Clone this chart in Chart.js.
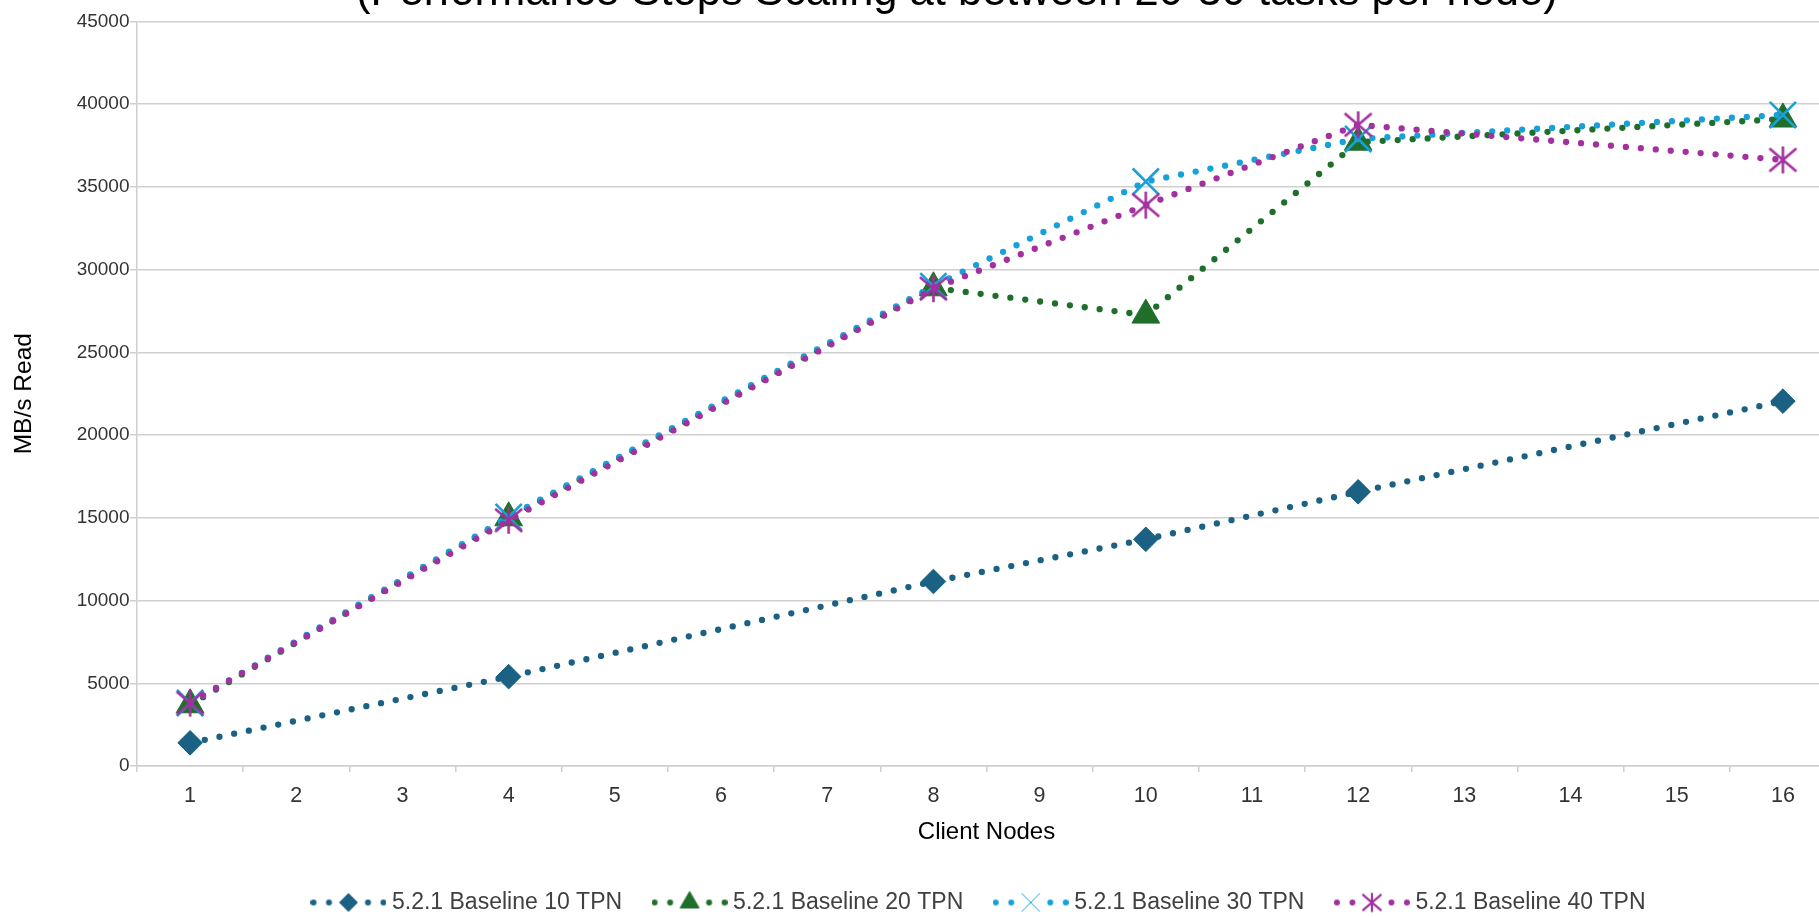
<!DOCTYPE html>
<html>
<head>
<meta charset="utf-8">
<script src="https://cdn.jsdelivr.net/npm/chart.js@4.4.1/dist/chart.umd.min.js"></script>
<style>
  html, body { margin: 0; padding: 0; background: #ffffff; overflow: hidden; width: 1819px; height: 918px; }
  #wrap { position: absolute; left: 0; top: -38px; width: 1962px; height: 962px; }
  canvas { display: block; }
</style>
</head>
<body>
<div id="wrap"><canvas id="chart" width="1962" height="962"></canvas></div>
<script>
// Category axis: number of client nodes
const clientNodes = ['1', '2', '3', '4', '5', '6', '7', '8', '9', '10', '11', '12', '13', '14', '15', '16'];
// Node counts that were actually measured
const measuredNodes = ['1', '4', '8', '10', '12', '16'];

// Read throughput (MB/s) at each measured node count
const baseline10TPN = [1400, 5400, 11150, 13700, 16570, 22050];
const baseline20TPN = [3700, 15000, 28900, 27250, 37700, 39100];
const baseline30TPN = [3800, 15050, 29000, 35320, 37900, 39350];
const baseline40TPN = [3800, 14850, 28850, 33900, 38750, 36630];

const seriesNames = ['5.2.1 Baseline 10 TPN', '5.2.1 Baseline 20 TPN', '5.2.1 Baseline 30 TPN', '5.2.1 Baseline 40 TPN'];
const yTickValues = [0, 5000, 10000, 15000, 20000, 25000, 30000, 35000, 40000, 45000];

const chartTitle = '(Performance Stops Scaling at between 20-30 tasks per node)';
const xTitle = 'Client Nodes';
const yTitle = 'MB/s Read';

const colors = ['#1a6183', '#1f6f2b', '#18a0da', '#a2309f'];
const FONT = "'Liberation Sans', Arial, Helvetica, sans-serif";

// Spread measured values over the full category axis (gaps are spanned by the line)
function onAxis(values) {
  return clientNodes.map(n => {
    const i = measuredNodes.indexOf(n);
    return i < 0 ? null : values[i];
  });
}

// Six-armed asterisk marker
function asteriskMarker(half, color, lw) {
  const size = Math.ceil(half * 2 + lw * 2);
  const c = document.createElement('canvas');
  c.width = size; c.height = size;
  const g = c.getContext('2d');
  const h = size / 2;
  g.strokeStyle = color;
  g.lineWidth = lw;
  g.beginPath();
  g.moveTo(h - half, h - half * 0.85); g.lineTo(h + half, h + half * 0.85);
  g.moveTo(h + half, h - half * 0.85); g.lineTo(h - half, h + half * 0.85);
  g.moveTo(h, h - half); g.lineTo(h, h + half);
  g.stroke();
  return c;
}

// Legend swatch: dotted line segment with the series marker in the middle
function legendSwatch(color, marker) {
  const c = document.createElement('canvas');
  c.width = 76; c.height = 28;
  const g = c.getContext('2d');
  const cx = 38, cy = 14;
  g.fillStyle = color;
  [-35, -19.5, 19.5, 35].forEach(dx => {
    g.beginPath(); g.arc(cx + dx, cy, 3, 0, Math.PI * 2); g.fill();
  });
  g.strokeStyle = color;
  if (marker.image) {
    g.drawImage(marker.image, cx - marker.image.width / 2, cy - marker.image.height / 2);
  } else {
    Chart.helpers.drawPoint(g, { pointStyle: marker.style, radius: marker.radius, rotation: 0, borderWidth: marker.borderWidth }, cx, cy);
  }
  return c;
}

const asteriskBig = asteriskMarker(13.5, colors[3], 2.6);
const asteriskSmall = asteriskMarker(9.5, colors[3], 2.2);

const legendMarkers = [
  { style: 'rectRot', radius: 9, borderWidth: 1 },
  { style: 'triangle', radius: 11, borderWidth: 1 },
  { style: 'crossRot', radius: 13, borderWidth: 2.2 },
  { image: asteriskSmall }
];
const legendSwatches = colors.map((c, i) => legendSwatch(c, legendMarkers[i]));

function lineSeries(i, values, pointStyle, radius, borderWidth) {
  return {
    label: seriesNames[i],
    data: onAxis(values),
    borderColor: colors[i],
    backgroundColor: colors[i],
    borderWidth: 6.3,
    borderDash: [0, 15],
    borderCapStyle: 'round',
    tension: 0,
    spanGaps: true,
    fill: false,
    pointStyle: pointStyle,
    pointRadius: radius,
    pointBorderWidth: borderWidth,
    pointBackgroundColor: colors[i],
    pointBorderColor: colors[i],
    order: 3 - i
  };
}

Chart.defaults.font.family = FONT;

new Chart(document.getElementById('chart'), {
  type: 'line',
  data: {
    labels: clientNodes,
    datasets: [
      lineSeries(0, baseline10TPN, 'rectRot', 12.3, 1),
      lineSeries(1, baseline20TPN, 'triangle', 16, 1),
      lineSeries(2, baseline30TPN, 'crossRot', 18.5, 2.6),
      lineSeries(3, baseline40TPN, asteriskBig, 13, 0)
    ]
  },
  options: {
    responsive: false,
    animation: false,
    events: [],
    devicePixelRatio: 1,
    layout: { padding: 0 },
    plugins: {
      tooltip: { enabled: false },
      title: {
        display: true,
        // trailing spaces keep the heading centred a little left of the legend
        text: chartTitle + '\u00a0\u00a0\u00a0\u00a0',
        color: '#000000',
        font: { size: 43.5, weight: 'normal', family: FONT },
        padding: { top: 5, bottom: 2.2 }
      },
      legend: {
        display: true,
        position: 'bottom',
        labels: {
          usePointStyle: true,
          pointStyleWidth: 64,
          padding: 35.5,
          color: '#404040',
          font: { size: 23, family: FONT },
          generateLabels: chart => chart.data.datasets.map((ds, i) => ({
            text: ds.label,
            pointStyle: legendSwatches[i],
            fillStyle: ds.borderColor,
            strokeStyle: ds.borderColor,
            lineWidth: 0,
            hidden: false,
            datasetIndex: i,
            fontColor: '#404040'
          }))
        }
      }
    },
    scales: {
      x: {
        type: 'category',
        offset: true,
        grid: { offset: true, drawOnChartArea: false, drawTicks: true, tickLength: 6, color: '#cfcfcf', lineWidth: 1.5 },
        border: { display: true, color: '#cfcfcf', width: 1.5 },
        ticks: { color: '#333333', font: { size: 21.5, family: FONT }, padding: 11.5, maxRotation: 0, autoSkip: false },
        title: { display: true, text: xTitle, color: '#000000', font: { size: 24, family: FONT }, padding: { top: 0, bottom: 8.6 } },
        afterFit: s => { s.height = 89.5; }
      },
      y: {
        type: 'linear',
        position: 'left',
        min: 0,
        max: 45000,
        afterBuildTicks: s => { s.ticks = yTickValues.map(v => ({ value: v })); },
        grid: { color: '#cfcfcf', lineWidth: 1.5, drawTicks: true, tickLength: 7 },
        border: { display: true, color: '#cfcfcf', width: 1.5 },
        ticks: { color: '#333333', font: { size: 19, family: FONT }, padding: 0.5, callback: v => String(v) },
        title: { display: true, text: yTitle, color: '#000000', font: { size: 24.5, family: FONT }, padding: { top: 10, bottom: 0 } },
        afterFit: s => { s.width = 137; }
      },
      rightGap: {
        type: 'linear',
        position: 'right',
        display: true,
        grid: { display: false, drawTicks: false },
        border: { display: false },
        ticks: { display: false },
        afterFit: s => { s.width = 126; }
      }
    }
  }
});
</script>
</body>
</html>
